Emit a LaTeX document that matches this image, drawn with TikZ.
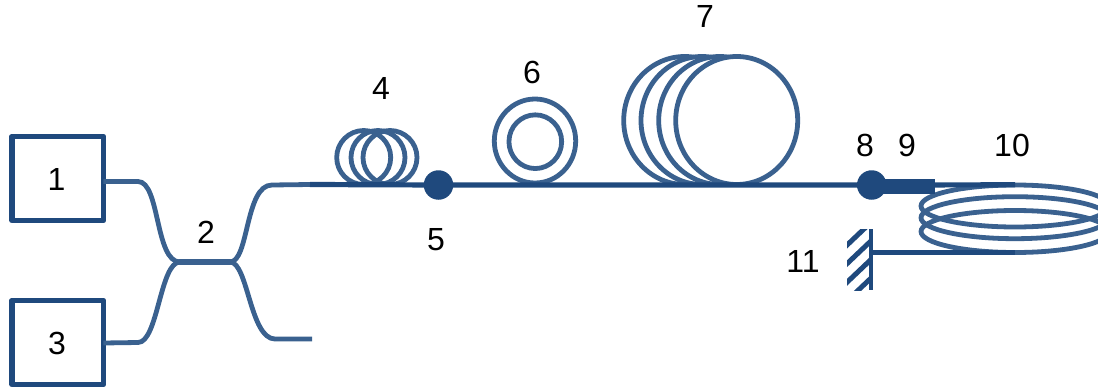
\documentclass[tikz,border=0pt]{standalone}
\usepackage{fontspec}
\setmainfont{Liberation Sans}
\definecolor{dk}{HTML}{1F497D}
\definecolor{lt}{HTML}{3A618F}
\tikzset{
  fiber/.style={draw=lt,line width=4.8pt,line cap=round},
  main/.style={draw=dk,line width=5.2pt},
  loopc/.style={draw=lt,line width=4.8pt,fill=white,ellipse,inner sep=0pt,outer sep=0pt},
  srcbox/.style={draw=dk,line width=5.5pt,line join=round,minimum width=91.5pt,minimum height=84pt,inner sep=0pt,outer sep=0pt,font=\fontsize{32}{32}\selectfont},
  dotc/.style={fill=dk,circle,minimum size=29.5pt,inner sep=0pt,outer sep=0pt},
  lab/.style={inner sep=0pt,font=\fontsize{32}{32}\selectfont,text=black},
}
\usetikzlibrary{shapes.geometric}
\begin{document}
\begin{tikzpicture}[x=1pt,y=-1pt]
\useasboundingbox (0,0) rectangle (1098,388);
\clip (0,0) rectangle (1098,388);
% sources
\node[srcbox] (b1) at (57.7,178.5) {};
\node[srcbox] (b3) at (57.7,342.5) {};
\node[lab] (t1) at (56.5,179.5) {1};
\node[lab] (t3) at (57,343) {3};
% coupler
\coordinate (cl) at (180,262);
\coordinate (cr) at (230,262);
\coordinate (oa) at (310,184.5);
\coordinate (ob) at (312,339);
\draw[fiber,line cap=butt] (b1.east |- 0,181.5) -- (138,181.5) .. controls (160,181.5) and (155,262) .. (cl);
\draw[fiber,line cap=butt] (b3.east |- 0,343) -- (138,342.5) .. controls (158,342.5) and (160,262) .. (cl);
\draw[fiber,line width=5.6pt] (cl) -- (cr);
\draw[fiber,line cap=butt] (cr) .. controls (249,262) and (245,185) .. (272,185) -- (oa);
\draw[fiber,line cap=butt] (cr) .. controls (248,262) and (250,339) .. (275,339) -- (ob);
% loops 4
\node[loopc,fill=none,minimum width=54pt,minimum height=54pt] (l41) at (363.7,157.5) {};
\node[loopc,fill=none,minimum width=54pt,minimum height=54pt] (l42) at (378,157.5) {};
\node[loopc,fill=none,minimum width=54pt,minimum height=54pt] (l43) at (390,157.5) {};
% rings 6
\node[loopc,fill=none,minimum width=81.4pt,minimum height=84pt] (r61) at (535,141) {};
\node[loopc,fill=none,minimum width=52.7pt,minimum height=53.7pt] (r62) at (535.3,141.7) {};
% loops 7
\node[loopc,minimum width=122pt,minimum height=128pt] (l71) at (684.7,120.5) {};
\node[loopc,minimum width=122pt,minimum height=128pt] (l72) at (702,120.5) {};
\node[loopc,minimum width=122pt,minimum height=128pt] (l73) at (719.7,120.5) {};
\node[loopc,minimum width=122pt,minimum height=128pt] (l74) at (736.7,120.5) {};
% coil 10
\node[loopc,fill=none,minimum width=188pt,minimum height=42pt] (c1) at (1015,206) {};
\node[loopc,fill=none,minimum width=188pt,minimum height=42pt] (c2) at (1015,217.7) {};
\node[loopc,fill=none,minimum width=188pt,minimum height=42pt] (c3) at (1015,231.5) {};
% main line
\node[dotc] (d5) at (438.5,185) {};
\node[dotc] (d8) at (871.7,185) {};
\coordinate (e10) at (1015,184.8);
\coordinate (e11) at (1015,252.7);
\coordinate (m) at (871,252.7);
\draw[main] (oa) -- (d5.center) -- (d8.center) -- (e10);
\draw[draw=dk,line width=15pt] (d8.center |- 0,186.8) -- (935,186.8);
% mirror
\begin{scope}
\clip (847,229) rectangle (871,290);
\foreach \k in {0,1,2,3}
  \draw[draw=dk,line width=5pt] (845,247+18.6*\k) -- (875,218.5+18.6*\k);
\end{scope}
\draw[main,line width=4.3pt] (871,229) coordinate (mt) -- (871,290) coordinate (mb);
\draw[main] (m) -- (e11);
% labels
\node[lab] (t2) at (206,232) {2};
\node[lab] (t4) at (381,88) {4};
\node[lab] (t5) at (436,240) {5};
\node[lab] (t6) at (532,72) {6};
\node[lab] (t7) at (705,16) {7};
\node[lab] (t8) at (865,145) {8};
\node[lab] (t9) at (907,145) {9};
\node[lab] (t10) at (1012,145) {10};
\node[lab] (t11) at (803,261) {11};
\end{tikzpicture}
\end{document}
